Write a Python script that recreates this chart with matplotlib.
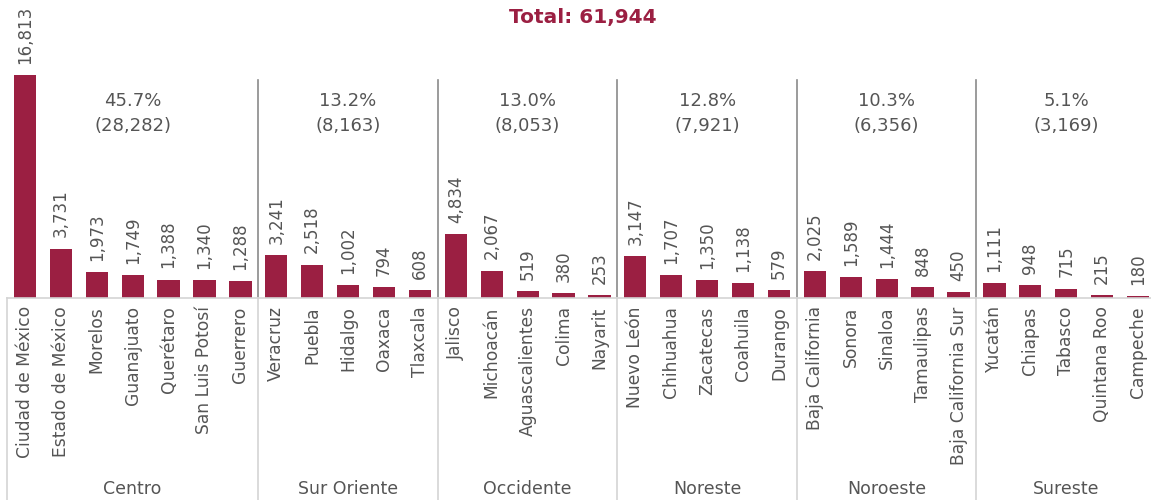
import matplotlib.pyplot as plt
import numpy as np

plt.rcParams["font.family"] = ["DejaVu Sans"]

regions = ["Centro", "Sur Oriente", "Occidente", "Noreste", "Noroeste", "Sureste"]
states = [
    ["Ciudad de México", "Estado de México", "Morelos", "Guanajuato", "Querétaro",
     "San Luis Potosí", "Guerrero"],
    ["Veracruz", "Puebla", "Hidalgo", "Oaxaca", "Tlaxcala"],
    ["Jalisco", "Michoacán", "Aguascalientes", "Colima", "Nayarit"],
    ["Nuevo León", "Chihuahua", "Zacatecas", "Coahuila", "Durango"],
    ["Baja California", "Sonora", "Sinaloa", "Tamaulipas", "Baja California Sur"],
    ["Yucatán", "Chiapas", "Tabasco", "Quintana Roo", "Campeche"],
]
values = [
    [16813, 3731, 1973, 1749, 1388, 1340, 1288],
    [3241, 2518, 1002, 794, 608],
    [4834, 2067, 519, 380, 253],
    [3147, 1707, 1350, 1138, 579],
    [2025, 1589, 1444, 848, 450],
    [1111, 948, 715, 215, 180],
]

bar_color = "#9b1f42"
text_color = "#555555"
dark_line = "#8a8a8a"
light_line = "#d4d4d4"

all_states = [s for g in states for s in g]
all_values = np.array([v for g in values for v in g])
x = np.arange(len(all_values))
total = all_values.sum()

fig = plt.figure(figsize=(11.51, 5.0), dpi=100)
# axes: baseline at y=298 px, top at y=0
ax = fig.add_axes([7 / 1151, 202 / 500, 1149 / 1151, 298 / 500])
ax.bar(x, all_values, width=0.62, color=bar_color, zorder=2)
ax.set_xlim(-0.5, len(x) - 0.5)
ax.set_ylim(0, 16813 * 298 / 223)

for xi, v in zip(x, all_values):
    ax.annotate(f"{v:,}", (xi, v), xytext=(0, 8), textcoords="offset points",
                rotation=90, ha="center", va="bottom", fontsize=12, color=text_color)

ax.set_xticks(x)
ax.set_xticklabels(all_states, rotation=90, fontsize=12.3, color=text_color)
ax.tick_params(axis="x", length=0, pad=6)
ax.set_yticks([])
for side in ["top", "right", "left"]:
    ax.spines[side].set_visible(False)
ax.spines["bottom"].set_color(light_line)
ax.spines["bottom"].set_linewidth(1.2)

trans = ax.get_xaxis_transform()
bounds = np.cumsum([len(g) for g in values])
starts = np.concatenate([[0], bounds[:-1]])

# left border below the axis
ax.plot([-0.5, -0.5], [0, -0.68], transform=trans, color=light_line, lw=1.2, clip_on=False)
for b in bounds[:-1]:
    xs = b - 0.5
    ax.plot([xs, xs], [0, 0.732], transform=trans, color=dark_line, lw=1.2, clip_on=False)
    ax.plot([xs, xs], [0, -0.68], transform=trans, color=light_line, lw=1.2, clip_on=False)

for name, s, b, g in zip(regions, starts, bounds, values):
    center = (s + b - 1) / 2
    gsum = sum(g)
    ax.text(center, 0.619, f"{gsum / total * 100:.1f}%\n({gsum:,})", transform=trans,
            ha="center", va="center", fontsize=13, color=text_color, linespacing=1.55)
    ax.text(center, -0.64, name, transform=trans, ha="center", va="center",
            fontsize=12.5, color=text_color)

fig.text(583 / 1151, 1 - 18 / 500, f"Total: {total:,}", ha="center", va="center",
         fontsize=14.5, fontweight="bold", color=bar_color)

fig.savefig("out.png", dpi=100)
